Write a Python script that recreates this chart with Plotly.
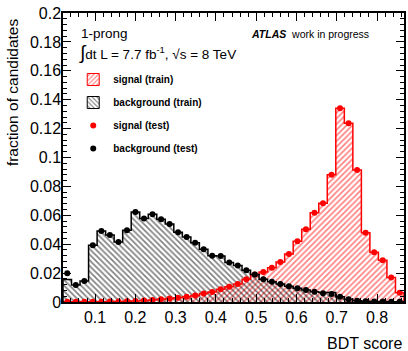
import numpy as np
import plotly.graph_objects as go

# ---------------- data ----------------
n_bins = 40
x_low, x_high = 0.0204, 0.867

sig_test = [0.0001, 0.0001, 0.0001, 0.0002, 0.0002, 0.0003, 0.0004, 0.0005,
            0.0007, 0.0010, 0.0014, 0.0019, 0.0024, 0.0030, 0.0037, 0.0045,
            0.0058, 0.0070, 0.0089, 0.0105, 0.0125, 0.0157, 0.0190, 0.0208,
            0.0237, 0.0277, 0.0332, 0.0420, 0.0503, 0.0618, 0.0683, 0.0881,
            0.1340, 0.1237, 0.0913, 0.0480, 0.0344, 0.0289, 0.0169, 0.0064]
bkg_test = [0.0199, 0.0118, 0.0145, 0.0392, 0.0491, 0.0464, 0.0415, 0.0496,
            0.0623, 0.0577, 0.0607, 0.0572, 0.0540, 0.0482, 0.0450, 0.0410,
            0.0365, 0.0320, 0.0318, 0.0273, 0.0253, 0.0220, 0.0190, 0.0158,
            0.0140, 0.0124, 0.0109, 0.0095, 0.0083, 0.0071, 0.0060, 0.0055,
            0.0037, 0.0019, 0.0009, 0.0005, 0.0003, 0.0003, 0.0002, 0.0002]
sig_train = [0.0001, 0.0001, 0.0001, 0.0002, 0.0002, 0.0003, 0.0004, 0.0005,
             0.0007, 0.0010, 0.0014, 0.0019, 0.0024, 0.0030, 0.0037, 0.0045,
             0.0058, 0.0070, 0.0089, 0.0105, 0.0125, 0.0157, 0.0190, 0.0208,
             0.0237, 0.0277, 0.0332, 0.0420, 0.0503, 0.0618, 0.0683, 0.0881,
             0.1340, 0.1237, 0.0913, 0.0480, 0.0344, 0.0289, 0.0169, 0.0064]
bkg_train = [0.0155, 0.0118, 0.0145, 0.0392, 0.0491, 0.0464, 0.0415, 0.0496,
             0.0623, 0.0577, 0.0607, 0.0572, 0.0540, 0.0482, 0.0450, 0.0410,
             0.0365, 0.0320, 0.0318, 0.0273, 0.0253, 0.0220, 0.0190, 0.0158,
             0.0140, 0.0124, 0.0109, 0.0095, 0.0083, 0.0071, 0.0065, 0.0065,
             0.0037, 0.0019, 0.0009, 0.0005, 0.0003, 0.0003, 0.0002, 0.0002]

y_tick_vals = [0, 0.02, 0.04, 0.06, 0.08, 0.1, 0.12, 0.14, 0.16, 0.18, 0.2]
y_tick_text = ["0", "0.02", "0.04", "0.06", "0.08", "0.1", "0.12", "0.14", "0.16", "0.18", "0.2"]
x_tick_vals = [0.1, 0.2, 0.3, 0.4, 0.5, 0.6, 0.7, 0.8]
x_tick_text = ["0.1", "0.2", "0.3", "0.4", "0.5", "0.6", "0.7", "0.8"]

# ---------------- derived ----------------
edges = np.linspace(x_low, x_high, n_bins + 1)
centers = 0.5 * (edges[:-1] + edges[1:])
width = edges[1] - edges[0]

def step_xy(vals):
    xs = [edges[0]] + list(edges) + [edges[-1]]
    ys = [0] + list(vals) + [vals[-1], 0]
    return xs, ys[:len(xs)]

FONT = "Liberation Sans, Arial, Helvetica, sans-serif"
RED = "#ff0000"
BLK = "#000000"
HATCH = dict(size=4, solidity=0.4, bgcolor="rgba(0,0,0,0)", fillmode="overlay")

fig = go.Figure()

# hatched histograms (train)
fig.add_trace(go.Bar(x=centers, y=sig_train, width=width, showlegend=False, hoverinfo="skip",
                     marker=dict(color="rgba(0,0,0,0)", line=dict(width=0),
                                 pattern=dict(shape="/", fgcolor=RED, **HATCH))))
fig.add_trace(go.Bar(x=centers, y=bkg_train, width=width, showlegend=False, hoverinfo="skip",
                     marker=dict(color="rgba(0,0,0,0)", line=dict(width=0),
                                 pattern=dict(shape="\\", fgcolor=BLK, **HATCH))))
sx, sy = step_xy(sig_train)
fig.add_trace(go.Scatter(x=sx, y=sy, mode="lines", line=dict(color=RED, width=1.5, shape="hv"),
                         showlegend=False, hoverinfo="skip"))
bx, by = step_xy(bkg_train)
fig.add_trace(go.Scatter(x=bx, y=by, mode="lines", line=dict(color=BLK, width=1.5, shape="hv"),
                         showlegend=False, hoverinfo="skip"))

# test points
fig.add_trace(go.Scatter(x=centers, y=sig_test, mode="markers", showlegend=False,
                         marker=dict(color=RED, size=6)))
fig.add_trace(go.Scatter(x=centers, y=bkg_test, mode="markers", showlegend=False,
                         marker=dict(color=BLK, size=6)))

# legend entries (no data of their own)
fig.add_trace(go.Bar(x=[None], y=[None], name="<b>signal (train)</b>", legendgroup="a",
                     marker=dict(color="rgba(0,0,0,0)", line=dict(width=1, color=RED),
                                 pattern=dict(shape="/", fgcolor=RED, size=4, solidity=0.35))))
fig.add_trace(go.Bar(x=[None], y=[None], name="<b>background (train)</b>", legendgroup="b",
                     marker=dict(color="rgba(0,0,0,0)", line=dict(width=1, color=BLK),
                                 pattern=dict(shape="\\", fgcolor=BLK, size=4, solidity=0.35))))
fig.add_trace(go.Scatter(x=[None], y=[None], mode="markers", name="<b>signal (test)</b>", legendgroup="c",
                         marker=dict(color=RED, size=6)))
fig.add_trace(go.Scatter(x=[None], y=[None], mode="markers", name="<b>background (test)</b>", legendgroup="d",
                         marker=dict(color=BLK, size=6)))

axis_common = dict(showline=True, linecolor="black", linewidth=1.5, mirror="allticks",
                   ticks="inside", ticklen=8, tickwidth=1, tickcolor="black",
                   showgrid=False, zeroline=False,
                   tickfont=dict(family=FONT, size=16, color="black"))

fig.update_layout(
    width=408, height=351,
    margin=dict(l=63, r=2, t=13, b=49),
    paper_bgcolor="white", plot_bgcolor="white",
    barmode="overlay", bargap=0,
    font=dict(family=FONT, color="black"),
    xaxis=dict(range=[x_low, x_high], tickvals=x_tick_vals, ticktext=x_tick_text,
               minor=dict(ticks="inside", ticklen=4, dtick=0.02, tick0=0, tickcolor="black"),
               **axis_common),
    yaxis=dict(range=[0, 0.2], tickvals=y_tick_vals, ticktext=y_tick_text,
               ticklabelstandoff=-3,
               minor=dict(ticks="inside", ticklen=4, dtick=0.004, tick0=0, tickcolor="black"),
               **axis_common),
    legend=dict(x=0.03, y=0.82, xanchor="left", yanchor="top", bgcolor="rgba(0,0,0,0)",
                font=dict(family=FONT, size=10, color="black"), tracegroupgap=4),
    annotations=[
        dict(text="1-prong", xref="paper", yref="paper", x=0.047, y=0.93,
             xanchor="left", yanchor="middle", align="left", showarrow=False,
             font=dict(family=FONT, size=13.5)),
        dict(text="<span style='font-size:19px'>∫</span>dt L = 7.7 fb<sup>-1</sup>, √s = 8 TeV",
             xref="paper", yref="paper", align="left",
             x=0.04, y=0.86, xanchor="left", yanchor="middle", showarrow=False,
             font=dict(family=FONT, size=13.5)),
        dict(text="<b><i>ATLAS</i></b>  work in progress", xref="paper", yref="paper",
             x=0.546, y=0.927, xanchor="left", yanchor="middle", align="left", showarrow=False,
             font=dict(family=FONT, size=10.5)),
        dict(text="fraction of candidates", xref="paper", yref="paper", textangle=-90,
             x=-0.146, y=0.99, xanchor="center", yanchor="top", showarrow=False,
             font=dict(family=FONT, size=15.5)),
        dict(text="BDT score", xref="paper", yref="paper", x=1.0, y=-0.142,
             xanchor="right", yanchor="middle", showarrow=False,
             font=dict(family=FONT, size=16)),
    ],
)

fig.write_html("out.html", config={"displayModeBar": False},
               post_script="document.body.style.margin='0';")
